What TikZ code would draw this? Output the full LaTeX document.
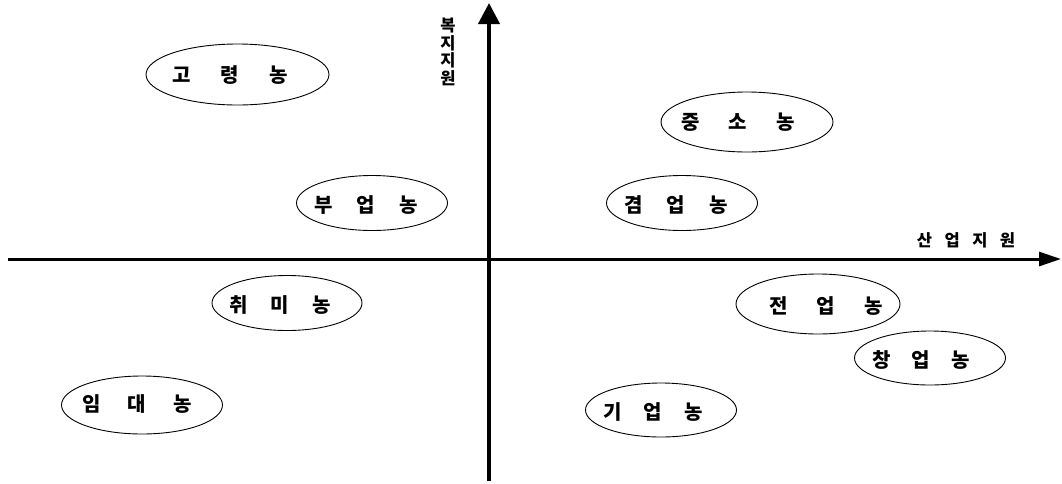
\documentclass[tikz,border=0pt]{standalone}
\usepackage{fontspec}
\newfontfamily\kr{Noto Sans CJK KR}
\usetikzlibrary{arrows.meta,shapes.geometric}
\newcommand\kt[4]{#1\hspace{#4pt}#2\hspace{#4pt}#3}
\newcommand\tightlines{\lineskiplimit=-100pt\relax\lineskip=0pt\relax}
\begin{document}
\begin{tikzpicture}[x=1pt,y=-1pt,
  farm/.style={draw,ellipse,line width=0.9pt,inner sep=0pt},
  lab/.style={font=\kr\bfseries\fontsize{20}{20}\selectfont,inner sep=0pt},
  axl/.style={font=\kr\bfseries\fontsize{16.5}{17.5}\selectfont\tightlines,inner sep=0pt,align=center}]
\useasboundingbox[fill=white] (0,0) rectangle (1062,483);
% axes
\coordinate (xs) at (8,259); \coordinate (xe) at (1061,259);
\coordinate (ys) at (489,481); \coordinate (ye) at (489,3);
\draw[line width=3pt,-{Triangle[length=22pt,width=14pt]}] (xs) -- (xe);
\draw[line width=4pt,-{Triangle[length=21pt,width=21pt]}] (ys) -- (ye);
\node[axl] (xl) at (966,240) {산\hspace{12.5pt}업\hspace{12.5pt}지\hspace{12.5pt}원};
\node[axl] (yl) at (448,52) {복\\지\\지\\원};
% ellipses
\node[farm,minimum width=183pt,minimum height=61pt] (e1) at (237.5,74.5) {};
\node[lab] (t1) at (230,75) {\kt{고}{령}{농}{30}};
\node[farm,minimum width=172pt,minimum height=60pt] (e2) at (747,122) {};
\node[lab] (t2) at (738,122) {\kt{중}{소}{농}{29}};
\node[farm,minimum width=151pt,minimum height=55pt] (e3) at (372,203) {};
\node[lab] (t3) at (366,205) {\kt{부}{업}{농}{24}};
\node[farm,minimum width=151pt,minimum height=55pt] (e4) at (682,203) {};
\node[lab] (t4) at (676,205) {\kt{겸}{업}{농}{24}};
\node[farm,minimum width=150pt,minimum height=55pt] (e5) at (287,303) {};
\node[lab] (t5) at (280,305) {\kt{취}{미}{농}{23}};
\node[farm,minimum width=164pt,minimum height=60pt] (e6) at (818,304) {};
\node[lab] (t6) at (826,306) {\kt{전}{업}{농}{29}};
\node[farm,minimum width=151pt,minimum height=54pt] (e7) at (930,358) {};
\node[lab] (t7) at (921,360) {\kt{창}{업}{농}{21}};
\node[farm,minimum width=161pt,minimum height=58pt] (e8) at (142,405) {};
\node[lab] (t8) at (137,404) {\kt{임}{대}{농}{27}};
\node[farm,minimum width=151pt,minimum height=54pt] (e9) at (661,410) {};
\node[lab] (t9) at (653,412) {\kt{기}{업}{농}{22}};
\end{tikzpicture}
\end{document}
